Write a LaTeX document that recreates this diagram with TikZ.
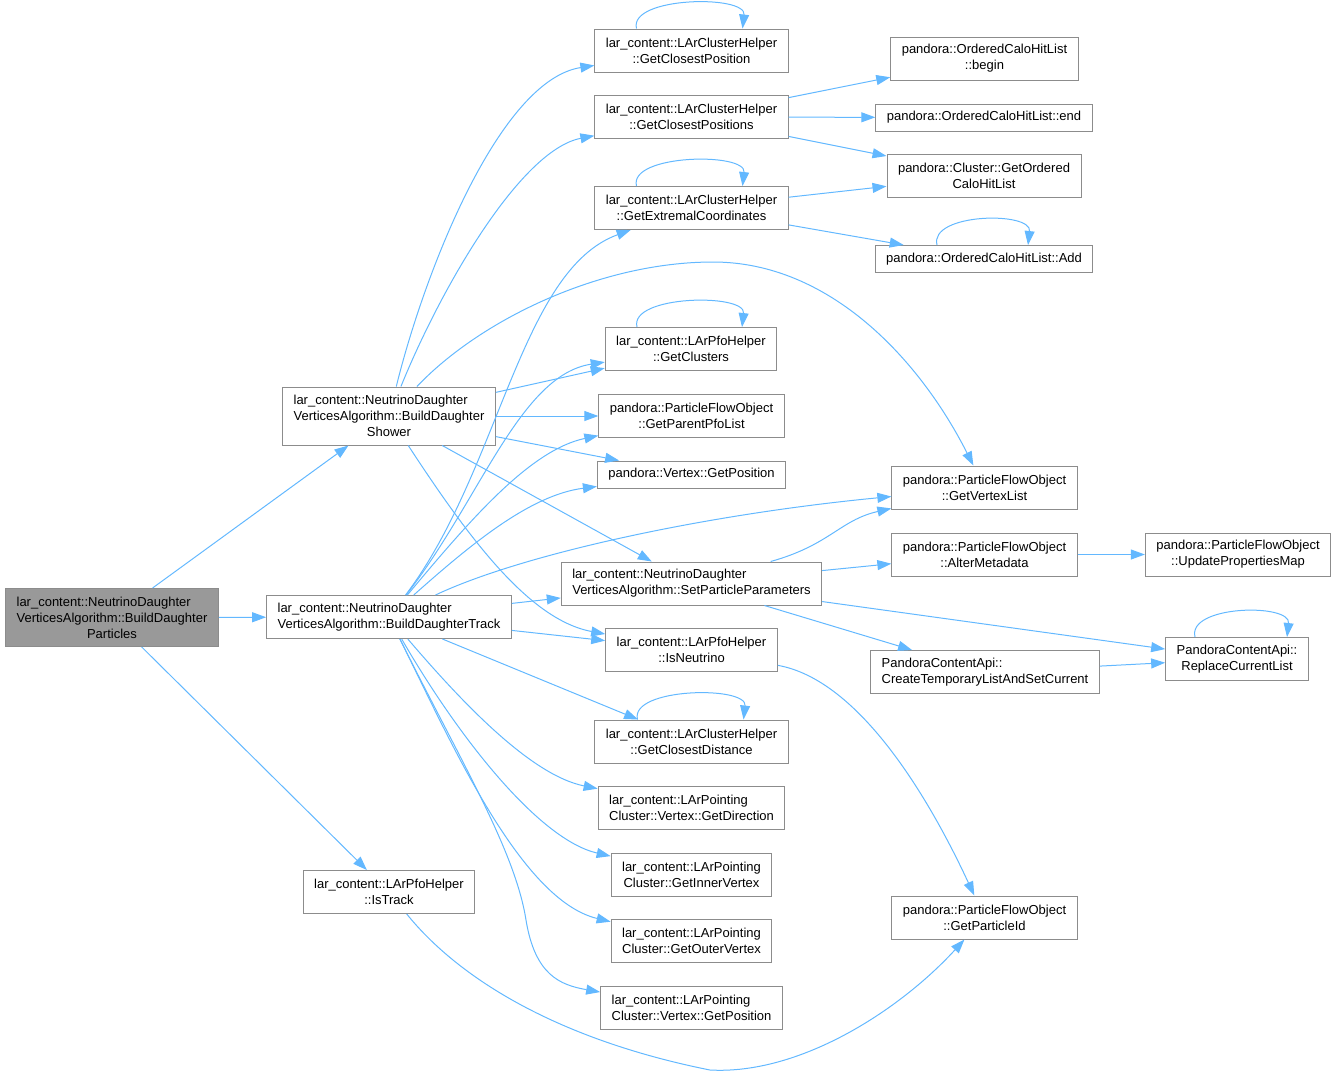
\documentclass[tikz,border=0pt]{standalone}
\usepackage{fontspec}
\setmainfont{Liberation Sans}
\usetikzlibrary{arrows.meta}

\definecolor{linkblue}{HTML}{63B8FF}
\definecolor{boxgray}{HTML}{8C8C8C}
\definecolor{rootgray}{HTML}{999999}
% last line of a box is centred, the others stay left
\newcommand{\lastline}[1]{\hspace*{\fill}#1\hspace*{\fill}}

\begin{document}
\begin{tikzpicture}[x=1pt,y=-1pt,
  fn/.style={draw=boxgray, fill=white, line width=1pt, align=left, inner xsep=11pt, inner ysep=2pt,
    minimum height=27pt, font=\fontsize{13}{16}\selectfont},
  two/.style={minimum height=43pt},
  three/.style={minimum height=58pt},
  link/.style={draw=linkblue, line width=1pt, -{Triangle[length=14pt,width=10pt]}}]
\useasboundingbox (0,0) rectangle (1335,1077);

% left part
\node[fn,three,fill=rootgray] (root) at (112,617.5) {lar\_content::NeutrinoDaughter\\VerticesAlgorithm::BuildDaughter\\\lastline{Particles}};
\node[fn,three] (shower) at (389,416) {lar\_content::NeutrinoDaughter\\VerticesAlgorithm::BuildDaughter\\\lastline{Shower}};
\node[fn,two] (track) at (389,617) {lar\_content::NeutrinoDaughter\\\lastline{VerticesAlgorithm::BuildDaughterTrack}};
\node[fn,two] (istrack) at (389,892) {lar\_content::LArPfoHelper\\\lastline{::IsTrack}};

% middle column
\node[fn,two] (cpos) at (691.5,50.5) {lar\_content::LArClusterHelper\\\lastline{::GetClosestPosition}};
\node[fn,two] (cposs) at (691.5,117) {lar\_content::LArClusterHelper\\\lastline{::GetClosestPositions}};
\node[fn,two] (extr) at (691.5,208) {lar\_content::LArClusterHelper\\\lastline{::GetExtremalCoordinates}};
\node[fn,two] (clus) at (691,349) {lar\_content::LArPfoHelper\\\lastline{::GetClusters}};
\node[fn,two] (parent) at (691.5,416) {pandora::ParticleFlowObject\\\lastline{::GetParentPfoList}};
\node[fn] (vpos) at (691.5,474.5) {pandora::Vertex::GetPosition};
\node[fn,two] (setpp) at (691.5,583.5) {lar\_content::NeutrinoDaughter\\\lastline{VerticesAlgorithm::SetParticleParameters}};
\node[fn,two] (isnu) at (691.5,650) {lar\_content::LArPfoHelper\\\lastline{::IsNeutrino}};
\node[fn,two] (cdist) at (691.5,741.5) {lar\_content::LArClusterHelper\\\lastline{::GetClosestDistance}};
\node[fn,two] (gdir) at (691.5,807.5) {lar\_content::LArPointing\\\lastline{Cluster::Vertex::GetDirection}};
\node[fn,two] (inner) at (691.5,874.5) {lar\_content::LArPointing\\\lastline{Cluster::GetInnerVertex}};
\node[fn,two] (outer) at (691.5,941) {lar\_content::LArPointing\\\lastline{Cluster::GetOuterVertex}};
\node[fn,two] (pvpos) at (691.5,1008) {lar\_content::LArPointing\\\lastline{Cluster::Vertex::GetPosition}};

% right part
\node[fn,two] (begin) at (984.5,58.5) {pandora::OrderedCaloHitList\\\lastline{::begin}};
\node[fn] (oend) at (984,117.5) {pandora::OrderedCaloHitList::end};
\node[fn,two] (ordered) at (984,175.5) {pandora::Cluster::GetOrdered\\\lastline{CaloHitList}};
\node[fn] (add) at (984,259) {pandora::OrderedCaloHitList::Add};
\node[fn,two] (vlist) at (984.5,487.5) {pandora::ParticleFlowObject\\\lastline{::GetVertexList}};
\node[fn,two] (alter) at (984.5,554.5) {pandora::ParticleFlowObject\\\lastline{::AlterMetadata}};
\node[fn,two] (ctemp) at (985,672) {PandoraContentApi::\\\lastline{CreateTemporaryListAndSetCurrent}};
\node[fn,two] (pid) at (984.5,917.5) {pandora::ParticleFlowObject\\\lastline{::GetParticleId}};
\node[fn,two] (upd) at (1238,554.5) {pandora::ParticleFlowObject\\\lastline{::UpdatePropertiesMap}};
\node[fn,two] (repl) at (1237,659) {PandoraContentApi::\\\lastline{ReplaceCurrentList}};

% straight calls
\foreach \a/\b in {root/shower, root/track, root/istrack, shower/clus, shower/parent, shower/vpos,
  shower/setpp, track/setpp, track/isnu, track/cdist, setpp/alter, setpp/repl, setpp/ctemp,
  ctemp/repl, alter/upd, cposs/begin, cposs/oend, cposs/ordered, extr/ordered, extr/add}
  \draw[link] (\a) -- (\b);

% curved calls
\draw[link] (shower) .. controls (425,270) and (500,80) .. (cpos);
\draw[link] (shower) .. controls (440,290) and (520,150) .. (cposs);
\draw[link] (shower) .. controls (480,320) and (600,262) .. (713,262) .. controls (830,262) and (920,360) .. (vlist);
\draw[link] (shower) .. controls (470,540) and (530,620) .. (isnu);
\draw[link] (track) .. controls (500,470) and (520,270) .. (extr);
\draw[link] (track) .. controls (480,500) and (520,375) .. (clus);
\draw[link] (track) .. controls (470,520) and (530,450) .. (parent);
\draw[link] (track) .. controls (470,545) and (530,495) .. (vpos);
\draw[link] (track) .. controls (520,555) and (700,515) .. (vlist);
\draw[link] (track) .. controls (460,700) and (530,775) .. (gdir);
\draw[link] (track) .. controls (460,740) and (540,840) .. (inner);
\draw[link] (track) .. controls (450,740) and (520,900) .. (outer);
\draw[link] (track) .. controls (460,760) and (515,850) .. (526,920) .. controls (535,975) and (560,985) .. (pvpos);
\draw[link] (setpp) .. controls (830,545) and (840,520) .. (vlist);
\draw[link] (isnu) .. controls (860,680) and (930,800) .. (pid);
\draw[link] (istrack) .. controls (460,980) and (560,1040) .. (710,1070) .. controls (800,1075) and (900,1010) .. (pid);

% recursive calls
\foreach \n/\a/\b in {cpos/55/51, extr/55/51, add/47/44, clus/54/51, cdist/54/52, repl/42/50}
  \draw[link] ([xshift=-\a]\n.north) .. controls ([xshift=-\a-8,yshift=32]\n.north)
    and ([xshift=\b+4,yshift=34]\n.north) .. ([xshift=\b]\n.north);
\end{tikzpicture}
\end{document}
